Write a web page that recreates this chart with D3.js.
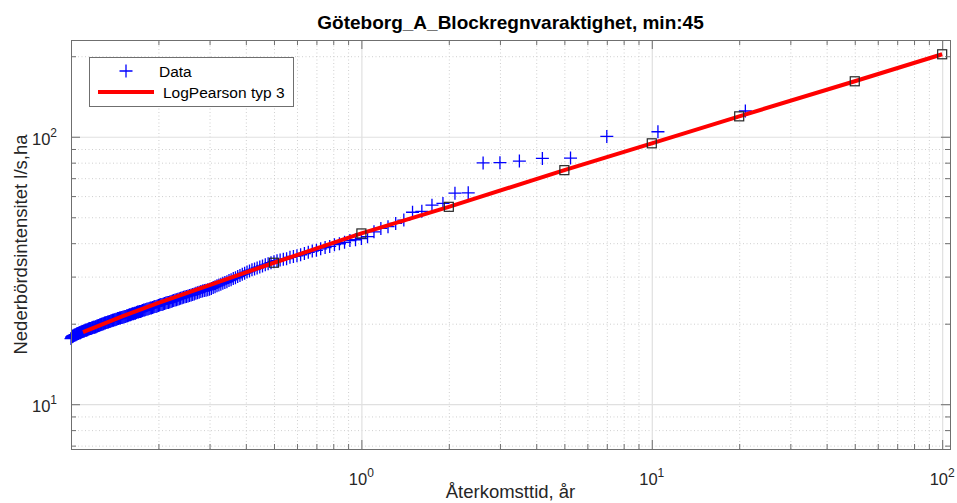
<!DOCTYPE html>
<meta charset="utf-8">
<style>
body {
  margin: 0;
  background: #fff;
  font-family: "Liberation Sans", Arial, sans-serif;
}
text { fill: #262626; }
.grid-major line { stroke: #e0e0e0; stroke-width: 1.2px; }
.grid-minor line { stroke: #cfcfcf; stroke-dasharray: 1,2.5; }
.grid-major path, .grid-minor path, .ticks path { display: none; }
.ticks line { stroke: #6f6f6f; }
</style>
<body>
<div id="chart"></div>
<script src="https://d3js.org/d3.v7.min.js"></script>
<script>

// return periods (years) of the observed events, largest first
var returnPeriod = [
  21, 10.5, 7, 5.25, 4.2, 3.5, 3, 2.625, 2.333, 2.1,
  1.909, 1.75, 1.615, 1.5, 1.4, 1.3125, 1.235, 1.167, 1.105, 1.05,
  1, 0.9545, 0.913, 0.875, 0.84, 0.8077, 0.7778, 0.75, 0.7241, 0.7,
  0.6774, 0.6563, 0.6364, 0.6176, 0.6, 0.5833, 0.5676, 0.5526, 0.5385, 0.525,
  0.5122, 0.5, 0.4884, 0.4773, 0.4667, 0.4565, 0.4468, 0.4375, 0.4286, 0.42,
  0.4118, 0.4038, 0.3962, 0.3889, 0.3818, 0.375, 0.3684, 0.3621, 0.3559, 0.35,
  0.3443, 0.3387, 0.3333, 0.3281, 0.3231, 0.3182, 0.3134, 0.3088, 0.3043, 0.3,
  0.2958, 0.2917, 0.2877, 0.2838, 0.28, 0.2763, 0.2727, 0.2692, 0.2658, 0.2625,
  0.2593, 0.2561, 0.253, 0.25, 0.2471, 0.2442, 0.2414, 0.2386, 0.236, 0.2333,
  0.2308, 0.2283, 0.2258, 0.2234, 0.2211, 0.2188, 0.2165, 0.2143, 0.2121, 0.21,
  0.2079, 0.2059, 0.2039, 0.2019, 0.2, 0.1981, 0.1963, 0.1944, 0.1927, 0.1909,
  0.1892, 0.1875, 0.1858, 0.1842, 0.1826, 0.181, 0.1795, 0.178, 0.1765, 0.175,
  0.1736, 0.1721, 0.1707, 0.1694, 0.168, 0.1667, 0.1654, 0.1641, 0.1628, 0.1615,
  0.1603, 0.1591, 0.1579, 0.1567, 0.1556, 0.1544, 0.1533, 0.1522, 0.1511, 0.15,
  0.1489, 0.1479, 0.1469, 0.1458, 0.1448, 0.1438, 0.1429, 0.1419, 0.1409, 0.14,
  0.1391, 0.1382, 0.1373, 0.1364, 0.1355, 0.1346, 0.1338, 0.1329, 0.1321, 0.1313,
  0.1304, 0.1296, 0.1288, 0.128, 0.1273, 0.1265, 0.1257, 0.125, 0.1243, 0.1235,
  0.1228, 0.1221, 0.1214, 0.1207, 0.12, 0.1193, 0.1186, 0.118, 0.1173, 0.1167,
  0.116, 0.1154, 0.1148, 0.1141, 0.1135, 0.1129, 0.1123, 0.1117, 0.1111, 0.1105,
  0.1099, 0.1094, 0.1088, 0.1082, 0.1077, 0.1071, 0.1066, 0.1061, 0.1055, 0.105,
  0.1045, 0.104, 0.1034, 0.1029, 0.1024, 0.1019, 0.1014, 0.101, 0.1005, 0.1
];

// observed intensities l/s,ha (same order)
var intensity = [
  124.8, 104.4, 100.3, 83.2, 83.0, 81.1, 80.0, 79.8, 61.7, 61.5,
  56.3, 55.5, 52.6, 52.2, 48.8, 47.4, 46.1, 45.4, 44.1, 42.3,
  41.6, 41.2, 40.9, 40.3, 39.8, 39.5, 38.9, 38.5, 38.1, 37.6,
  37.4, 37.0, 36.6, 36.2, 35.9, 35.7, 35.4, 35.0, 34.8, 34.6,
  34.4, 34.1, 33.8, 33.5, 33.2, 32.9, 32.6, 32.3, 32.0, 31.8,
  31.5, 31.2, 30.9, 30.6, 30.3, 30.0, 29.7, 29.5, 29.2, 29.0,
  28.7, 28.5, 28.3, 28.1, 27.9, 27.7, 27.5, 27.3, 27.1, 26.9,
  26.8, 26.7, 26.6, 26.5, 26.4, 26.2, 26.1, 26.0, 25.8, 25.7,
  25.6, 25.5, 25.4, 25.3, 25.2, 25.1, 25.0, 24.9, 24.8, 24.7,
  24.6, 24.5, 24.4, 24.3, 24.2, 24.1, 24.0, 24.0, 23.9, 23.8,
  23.7, 23.6, 23.6, 23.5, 23.4, 23.3, 23.2, 23.2, 23.1, 23.0,
  22.9, 22.9, 22.8, 22.7, 22.7, 22.6, 22.5, 22.5, 22.4, 22.3,
  22.2, 22.2, 22.1, 22.1, 22.0, 21.9, 21.9, 21.8, 21.8, 21.7,
  21.6, 21.6, 21.5, 21.4, 21.4, 21.3, 21.3, 21.2, 21.2, 21.1,
  21.1, 21.0, 21.0, 20.9, 20.9, 20.8, 20.8, 20.7, 20.7, 20.6,
  20.6, 20.5, 20.5, 20.4, 20.4, 20.3, 20.3, 20.2, 20.2, 20.1,
  20.1, 20.0, 20.0, 19.9, 19.9, 19.8, 19.8, 19.7, 19.7, 19.6,
  19.6, 19.5, 19.5, 19.4, 19.4, 19.4, 19.3, 19.3, 19.2, 19.2,
  19.2, 19.1, 19.1, 19.0, 19.0, 18.9, 18.9, 18.9, 18.8, 18.8,
  18.7, 18.7, 18.6, 18.6, 18.5, 18.5, 18.5, 18.4, 18.4, 18.3,
  18.3, 18.2, 18.2, 18.1, 18.1, 18.0, 18.0, 17.9, 17.8, 17.6
];

// fitted LogPearson typ 3 curve
var fitPeriod = [0.11, 0.15, 0.2, 0.3, 0.5, 1, 2, 5, 10, 20, 50, 100];
var fitIntensity = [18.6, 21.3, 23.9, 27.9, 33.8, 43.5, 54.7, 75.0, 94.5, 119.2, 161.2, 203.4];

// square markers on the fitted curve
var markPeriod = [0.5, 1, 2, 5, 10, 20, 50, 100];
var markIntensity = [33.8, 43.5, 54.7, 75.0, 94.5, 119.2, 161.2, 203.4];

var xMajor = [1, 10, 100];
var xMinor = [0.2, 0.3, 0.4, 0.5, 0.6, 0.7, 0.8, 0.9, 2, 3, 4, 5, 6, 7, 8, 9,
              20, 30, 40, 50, 60, 70, 80, 90];
var yMajor = [10, 100];
var yMinor = [7, 8, 9, 20, 30, 40, 50, 60, 70, 80, 90, 200];

var titleText = "Göteborg_A_Blockregnvaraktighet, min:45";
var xLabel = "Återkomsttid, år";
var yLabel = "Nederbördsintensitet l/s,ha";
var legendNames = ["Data", "LogPearson typ 3"];

var width = 957, height = 503;
var box = {left: 71, right: 950, top: 40, bottom: 449};

var svg = d3.select("#chart").append("svg")
    .attr("width", width)
    .attr("height", height);

var x = d3.scaleLog().domain([0.1, 106.4]).range([box.left, box.right]);
var y = d3.scaleLog().domain([6.8, 230]).range([box.bottom, box.top]);

var plotH = box.bottom - box.top,
    plotW = box.right - box.left;

// grid
svg.append("g").attr("class", "grid-minor")
    .attr("transform", "translate(0," + box.bottom + ")")
    .call(d3.axisBottom(x).tickValues(xMinor).tickSize(-plotH).tickFormat(""));
svg.append("g").attr("class", "grid-minor")
    .attr("transform", "translate(" + box.left + ",0)")
    .call(d3.axisLeft(y).tickValues(yMinor).tickSize(-plotW).tickFormat(""));
svg.append("g").attr("class", "grid-major")
    .attr("transform", "translate(0," + box.bottom + ")")
    .call(d3.axisBottom(x).tickValues(xMajor).tickSize(-plotH).tickFormat(""));
svg.append("g").attr("class", "grid-major")
    .attr("transform", "translate(" + box.left + ",0)")
    .call(d3.axisLeft(y).tickValues(yMajor).tickSize(-plotW).tickFormat(""));

// data points
var pts = returnPeriod.map(function(t, i) { return [t, intensity[i]]; });
svg.append("g").selectAll("path")
    .data(pts)
  .enter().append("path")
    .attr("d", "M-6.5,0H6.5M0,-6.5V6.5")
    .attr("transform", function(d) { return "translate(" + x(d[0]) + "," + y(d[1]) + ")"; })
    .attr("stroke", "#0000ff")
    .attr("stroke-width", 1.3)
    .attr("fill", "none");

// fitted line
var line = d3.line()
    .x(function(d) { return x(d[0]); })
    .y(function(d) { return y(d[1]); });
var fit = fitPeriod.map(function(t, i) { return [t, fitIntensity[i]]; });
svg.append("path")
    .datum(fit)
    .attr("d", line)
    .attr("fill", "none")
    .attr("stroke", "#ff0000")
    .attr("stroke-width", 4)
    .attr("stroke-linejoin", "round");

var marks = markPeriod.map(function(t, i) { return [t, markIntensity[i]]; });
svg.append("g").selectAll("rect")
    .data(marks)
  .enter().append("rect")
    .attr("x", function(d) { return x(d[0]) - 4.5; })
    .attr("y", function(d) { return y(d[1]) - 4.5; })
    .attr("width", 9)
    .attr("height", 9)
    .attr("fill", "none")
    .attr("stroke", "#262626")
    .attr("stroke-width", 1.2);

// ticks on all four sides (inward)
function ticks(axis, vals, len, tr) {
  svg.append("g").attr("class", "ticks")
      .attr("transform", tr)
      .call(axis.tickValues(vals).tickSize(-len).tickFormat(""));
}
ticks(d3.axisBottom(x), xMajor, 9, "translate(0," + box.bottom + ")");
ticks(d3.axisBottom(x), xMinor, 5, "translate(0," + box.bottom + ")");
ticks(d3.axisTop(x), xMajor, 9, "translate(0," + box.top + ")");
ticks(d3.axisTop(x), xMinor, 5, "translate(0," + box.top + ")");
ticks(d3.axisLeft(y), yMajor, 9, "translate(" + box.left + ",0)");
ticks(d3.axisLeft(y), yMinor, 5, "translate(" + box.left + ",0)");
ticks(d3.axisRight(y), yMajor, 9, "translate(" + box.right + ",0)");
ticks(d3.axisRight(y), yMinor, 5, "translate(" + box.right + ",0)");

svg.append("rect")
    .attr("x", box.left + 0.5)
    .attr("y", box.top + 0.5)
    .attr("width", plotW)
    .attr("height", plotH)
    .attr("fill", "none")
    .attr("stroke", "#6f6f6f")
    .attr("stroke-width", 1);

// tick labels 10^n
function powLabel(sel) {
  sel.append("tspan").text("10");
  sel.append("tspan")
      .attr("dy", -8)
      .attr("font-size", "12px")
      .text(function(d) { return Math.round(Math.log10(d)); });
}
svg.append("g").selectAll("text")
    .data(xMajor)
  .enter().append("text")
    .attr("x", function(d) { return x(d); })
    .attr("y", 485)
    .attr("text-anchor", "middle")
    .attr("font-size", "16.5px")
    .call(powLabel);
svg.append("g").selectAll("text")
    .data(yMajor)
  .enter().append("text")
    .attr("x", 57)
    .attr("y", function(d) { return y(d) + 8; })
    .attr("text-anchor", "end")
    .attr("font-size", "16.5px")
    .call(powLabel);

// title and axis labels
svg.append("text")
    .attr("x", (box.left + box.right) / 2)
    .attr("y", 29)
    .attr("text-anchor", "middle")
    .attr("font-size", "19px")
    .attr("font-weight", "bold")
    .style("fill", "#000")
    .text(titleText);

svg.append("text")
    .attr("x", (box.left + box.right) / 2)
    .attr("y", 498)
    .attr("text-anchor", "middle")
    .attr("font-size", "18.5px")
    .text(xLabel);

svg.append("text")
    .attr("transform", "translate(27," + (box.top + box.bottom) / 2 + ") rotate(-90)")
    .attr("text-anchor", "middle")
    .attr("font-size", "18.5px")
    .text(yLabel);

// legend
var lg = svg.append("g").attr("transform", "translate(89,57)");
lg.append("rect")
    .attr("x", 0.5).attr("y", 0.5)
    .attr("width", 204).attr("height", 49)
    .attr("fill", "#fff")
    .attr("stroke", "#6f6f6f");
lg.append("path")
    .attr("d", "M-6.5,0H6.5M0,-6.5V6.5")
    .attr("transform", "translate(37,14)")
    .attr("stroke", "#0000ff")
    .attr("stroke-width", 1.3);
lg.append("line")
    .attr("x1", 9).attr("x2", 65)
    .attr("y1", 35).attr("y2", 35)
    .attr("stroke", "#ff0000")
    .attr("stroke-width", 4);
lg.selectAll("text.name")
    .data(legendNames)
  .enter().append("text")
    .attr("class", "name")
    .attr("x", function(d, i) { return i === 0 ? 70 : 74; })
    .attr("y", function(d, i) { return i === 0 ? 20 : 41; })
    .attr("font-size", "15.5px")
    .style("fill", "#000")
    .text(function(d) { return d; });

</script>
</body>
